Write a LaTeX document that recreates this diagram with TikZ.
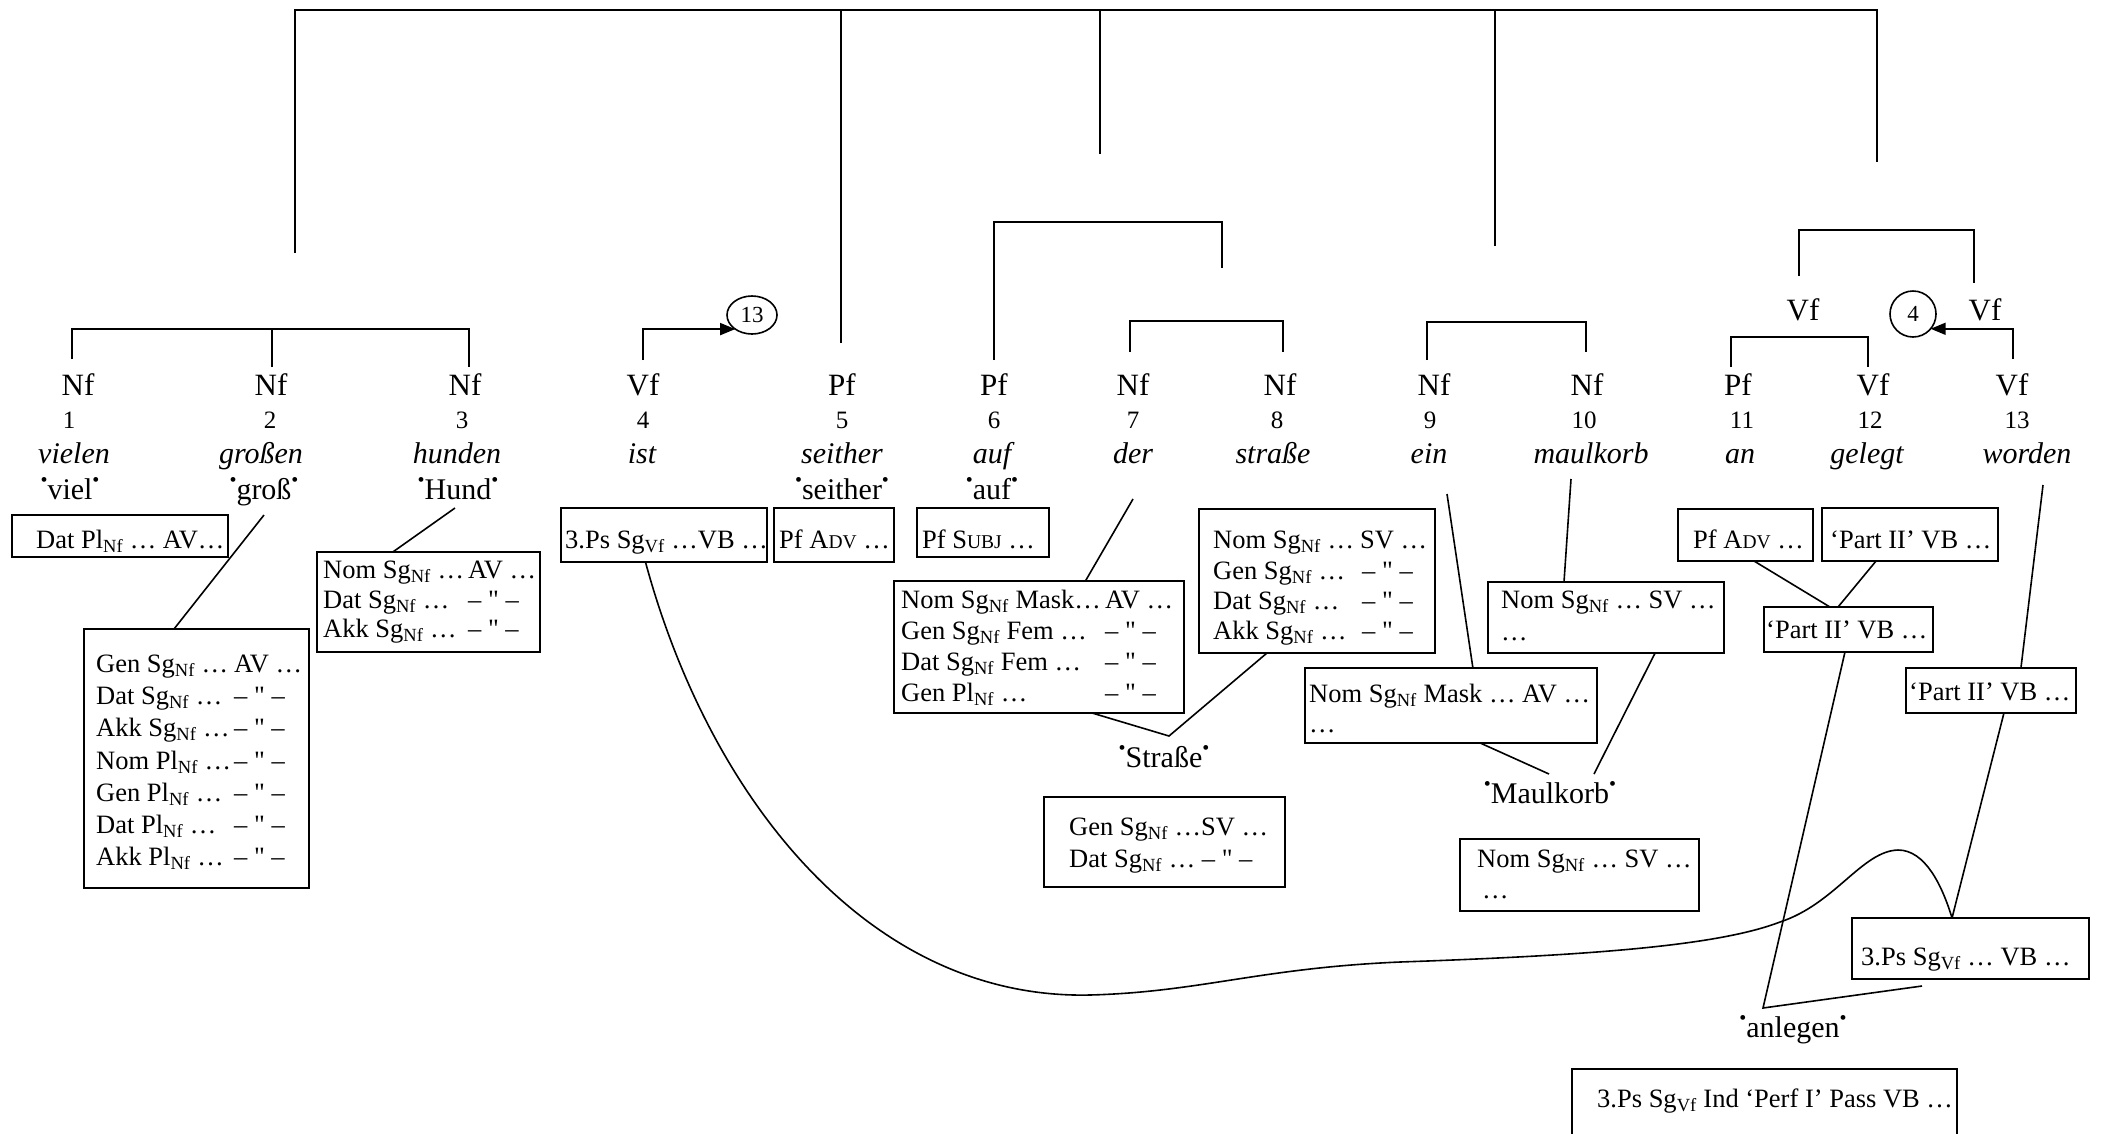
\documentclass[tikz,border=0pt]{standalone}
\usepackage{fontspec}
\setmainfont{Liberation Serif}
\usetikzlibrary{calc,arrows.meta,shapes.geometric}
\newcommand\gd{\raisebox{13pt}{\fontsize{20}{20}\selectfont •}}
\newcommand\fsc[1]{{\fontsize{19.5}{20}\selectfont #1}}
\newcommand\sbt[1]{\textsubscript{#1}}
\newcommand\qd{\XeTeXglyph\XeTeXglyphindex "quotedbl"\relax}
\newcommand\dit{– \qd{} –}
\begin{document}
\begin{tikzpicture}[x=1pt,y=-1pt,
  lab/.style={font=\fontsize{31}{31}\selectfont, inner sep=0, anchor=base},
  num/.style={font=\fontsize{25}{25}\selectfont, inner sep=0, anchor=base},
  wrd/.style={font=\fontsize{30}{30}\selectfont\itshape, inner sep=0, anchor=base},
  gls/.style={font=\fontsize{30}{30}\selectfont, inner sep=0, anchor=base},
  bx/.style={draw, line width=2pt, inner sep=0, outer sep=0, anchor=north west},
  bt/.style={font=\fontsize{26.5}{30}\selectfont, inner sep=0, anchor=base west},
  ln/.style={line width=1.6pt},
  br/.style={line width=1.8pt},
  arr/.style={ln, -{Triangle[length=15pt,width=12pt]}},
  circ/.style={draw, ellipse, line width=1.6pt, inner sep=0, outer sep=0, font=\fontsize{23}{23}\selectfont}]
\useasboundingbox (0,0) rectangle (2103,1133);

% ---------- top structure ----------
\coordinate (t1) at (295,253);
\coordinate (t2) at (841,343);
\coordinate (t3) at (1100,154);
\coordinate (t4) at (1495,246);
\coordinate (t5) at (1877,162);
\draw[br] (t1) -- ++(0,-243) -| (t5);
\draw[br] (t2) -- ++(0,-333);
\draw[br] (t3) -- ++(0,-144);
\draw[br] (t4) -- ++(0,-236);

% ---------- brackets ----------
\coordinate (k1) at (72,359);
\coordinate (k2) at (272,367);
\coordinate (k3) at (469,367);
\draw[br] (k1) -- ++(0,-30) -| (k3);
\draw[br] (k2) -- ++(0,-38);
\coordinate (k6) at (994,360);
\coordinate (k78) at (1222,268);
\draw[br] (k6) -- ++(0,-138) -| (k78);
\coordinate (k7) at (1130,352);
\coordinate (k8) at (1283,352);
\draw[br] (k7) -- ++(0,-31) -| (k8);
\coordinate (k9) at (1427,360);
\coordinate (k10) at (1586,352);
\draw[br] (k9) -- ++(0,-38) -| (k10);
\coordinate (k11) at (1731,367);
\coordinate (k12) at (1868,367);
\draw[br] (k11) -- ++(0,-30) -| (k12);
\coordinate (kva) at (1799,276);
\coordinate (kvb) at (1974,283);
\draw[br] (kva) -- ++(0,-46) -| (kvb);

% ---------- category labels ----------
\node[lab] (l1) at (78,395) {Nf};
\node[lab] (l2) at (271,395) {Nf};
\node[lab] (l3) at (465,395) {Nf};
\node[lab] (l4) at (643,395) {Vf};
\node[lab] (l5) at (842,395) {Pf};
\node[lab] (l6) at (994,395) {Pf};
\node[lab] (l7) at (1133,395) {Nf};
\node[lab] (l8) at (1280,395) {Nf};
\node[lab] (l9) at (1434,395) {Nf};
\node[lab] (l10) at (1587,395) {Nf};
\node[lab] (l11) at (1738,395) {Pf};
\node[lab] (l12) at (1873,395) {Vf};
\node[lab] (l13) at (2012,395) {Vf};
\node[lab] (lva) at (1803,320) {Vf};
\node[lab] (lvb) at (1985,320) {Vf};

% ---------- numbers ----------
\node[num] (n1) at (69,428) {1};
\node[num] (n2) at (270,428) {2};
\node[num] (n3) at (462,428) {3};
\node[num] (n4) at (643,428) {4};
\node[num] (n5) at (842,428) {5};
\node[num] (n6) at (994,428) {6};
\node[num] (n7) at (1133,428) {7};
\node[num] (n8) at (1277,428) {8};
\node[num] (n9) at (1430,428) {9};
\node[num] (n10) at (1584,428) {10};
\node[num] (n11) at (1742,428) {11};
\node[num] (n12) at (1870,428) {12};
\node[num] (n13) at (2017,428) {13};

% ---------- word forms ----------
\node[wrd] (w1) at (74,463) {vielen};
\node[wrd] (w2) at (261,463) {großen};
\node[wrd] (w3) at (457,463) {hunden};
\node[wrd] (w4) at (642,463) {ist};
\node[wrd] (w5) at (842,463) {seither};
\node[wrd] (w6) at (992,463) {auf};
\node[wrd] (w7) at (1133,463) {der};
\node[wrd] (w8) at (1273,463) {straße};
\node[wrd] (w9) at (1429,463) {ein};
\node[wrd] (w10) at (1591,463) {maulkorb};
\node[wrd] (w11) at (1740,463) {an};
\node[wrd] (w12) at (1867,463) {gelegt};
\node[wrd] (w13) at (2027,463) {worden};

% ---------- glosses ----------
\node[gls] (g1) at (70,499) {\gd viel\gd};
\node[gls] (g2) at (264,499) {\gd groß\gd};
\node[gls] (g3) at (458,499) {\gd Hund\gd};
\node[gls] (g5) at (842,499) {\gd seither\gd};
\node[gls] (g6) at (992,499) {\gd auf\gd};
\node[gls] (gS) at (1164,767) {\gd Straße\gd};
\node[gls] (gM) at (1550,803) {\gd Maulkorb\gd};
\node[gls] (gA) at (1793,1037) {\gd anlegen\gd};

% ---------- circles and arrows ----------
\node[circ, minimum width=50pt, minimum height=38pt] (c13) at (752,315) {13};
\node[circ, minimum width=46pt, minimum height=46pt] (c4) at (1913,314) {4};
\coordinate (a4) at (643,360);
\coordinate (a13) at (2013,359);
\draw[arr] (a4) |- (c13.220);
\draw[arr] (a13) |- (c4.-40);

% ---------- boxes ----------
\node[bx, minimum width=216pt, minimum height=42pt] (bviel) at (12,515) {};
\node[bt] (bvielt) at (36,548) {Dat Pl\sbt{Nf} … AV…};

\node[bx, minimum width=225pt, minimum height=259pt] (bgross) at (84,629) {};
\node[bt] (bg1) at (96,672) {\makebox[138pt][l]{Gen Sg\sbt{Nf} …}AV …};
\node[bt] (bg2) at (96,704) {\makebox[138pt][l]{Dat Sg\sbt{Nf} …}\dit};
\node[bt] (bg3) at (96,736) {\makebox[138pt][l]{Akk Sg\sbt{Nf} …}\dit};
\node[bt] (bg4) at (96,769) {\makebox[138pt][l]{Nom Pl\sbt{Nf} …}\dit};
\node[bt] (bg5) at (96,801) {\makebox[138pt][l]{Gen Pl\sbt{Nf} …}\dit};
\node[bt] (bg6) at (96,833) {\makebox[138pt][l]{Dat Pl\sbt{Nf} …}\dit};
\node[bt] (bg7) at (96,865) {\makebox[138pt][l]{Akk Pl\sbt{Nf} …}\dit};

\node[bx, minimum width=223pt, minimum height=100pt] (bhund) at (317,552) {};
\node[bt] (bh1) at (323,578) {\makebox[145pt][l]{Nom Sg\sbt{Nf} …}AV …};
\node[bt] (bh2) at (323,608) {\makebox[145pt][l]{Dat Sg\sbt{Nf} …}\dit};
\node[bt] (bh3) at (323,637) {\makebox[145pt][l]{Akk Sg\sbt{Nf} …}\dit};

\node[bx, minimum width=206pt, minimum height=54pt] (bist) at (561,508) {};
\node[bt] (bistt) at (565,548) {3.Ps Sg\sbt{Vf} …VB …};

\node[bx, minimum width=120pt, minimum height=54pt] (bseit) at (774,508) {};
\node[bt] (bseitt) at (779,548) {Pf A\fsc{DV} …};

\node[bx, minimum width=132pt, minimum height=49pt] (bauf) at (917,508) {};
\node[bt] (bauft) at (922,548) {Pf S\fsc{UBJ} …};

\node[bx, minimum width=290pt, minimum height=132pt] (bder) at (894,581) {};
\node[bt] (bd1) at (901,608) {\makebox[204pt][l]{Nom Sg\sbt{Nf} Mask…}AV …};
\node[bt] (bd2) at (901,639) {\makebox[204pt][l]{Gen Sg\sbt{Nf} Fem …}\dit};
\node[bt] (bd3) at (901,670) {\makebox[204pt][l]{Dat Sg\sbt{Nf} Fem …}\dit};
\node[bt] (bd4) at (901,701) {\makebox[204pt][l]{Gen Pl\sbt{Nf} …}\dit};

\node[bx, minimum width=236pt, minimum height=144pt] (bstr) at (1199,509) {};
\node[bt] (bs1) at (1213,548) {\makebox[147pt][l]{Nom Sg\sbt{Nf} …}SV …};
\node[bt] (bs2) at (1213,579) {\makebox[149pt][l]{Gen Sg\sbt{Nf} …}\dit};
\node[bt] (bs3) at (1213,609) {\makebox[149pt][l]{Dat Sg\sbt{Nf} …}\dit};
\node[bt] (bs4) at (1213,639) {\makebox[149pt][l]{Akk Sg\sbt{Nf} …}\dit};

\node[bx, minimum width=241pt, minimum height=90pt] (bstr2) at (1044,797) {};
\node[bt] (bs21) at (1069,835) {Gen Sg\sbt{Nf} …SV …};
\node[bt] (bs22) at (1069,867) {Dat Sg\sbt{Nf} … \dit};

\node[bx, minimum width=292pt, minimum height=75pt] (bein) at (1305,668) {};
\node[bt] (be1) at (1309,702) {Nom Sg\sbt{Nf} Mask … AV …};
\node[bt] (be2) at (1309,732) {…};

\node[bx, minimum width=236pt, minimum height=71pt] (bmaul) at (1488,582) {};
\node[bt] (bm1) at (1501,608) {Nom Sg\sbt{Nf} … SV …};
\node[bt] (bm2) at (1501,640) {…};

\node[bx, minimum width=239pt, minimum height=72pt] (bmaul2) at (1460,839) {};
\node[bt] (bm21) at (1477,867) {Nom Sg\sbt{Nf} … SV …};
\node[bt] (bm22) at (1482,898) {…};

\node[bx, minimum width=135pt, minimum height=52pt] (ban) at (1678,509) {};
\node[bt] (bant) at (1693,548) {Pf A\fsc{DV} …};

\node[bx, minimum width=176pt, minimum height=53pt] (bgel) at (1822,508) {};
\node[bt] (bgelt) at (1830,548) {‘Part II’ VB …};

\node[bx, minimum width=169pt, minimum height=45pt] (bmid) at (1764,607) {};
\node[bt] (bmidt) at (1766,638) {‘Part II’ VB …};

\node[bx, minimum width=170pt, minimum height=45pt] (bwor) at (1906,668) {};
\node[bt] (bwort) at (1909,700) {‘Part II’ VB …};

\node[bx, minimum width=237pt, minimum height=61pt] (b3ps) at (1852,918) {};
\node[bt] (b3pst) at (1861,965) {3.Ps Sg\sbt{Vf} … VB …};

\node[bx, minimum width=385pt, minimum height=100pt] (bbot) at (1572,1069) {};
\node[bt] (bbott) at (1597,1107) {3.Ps Sg\sbt{Vf} Ind ‘Perf I’ Pass VB …};

% ---------- connectors ----------
\coordinate (s2) at (264,515);
\coordinate (s3) at (455,508);
\coordinate (s7) at (1133,499);
\coordinate (s9) at (1447,494);
\coordinate (s10) at (1571,479);
\coordinate (s13) at (2043,485);
\coordinate (pS) at (1169,736);
\coordinate (pM1) at (1549,774);
\coordinate (pM2) at (1594,774);
\coordinate (pA) at (1763,1008);
\coordinate (q3) at (1922,986);

\draw[ln] (s2) -- ($(bgross.north west)!.4!(bgross.north east)$);
\draw[ln] (s3) -- ($(bhund.north west)!.34!(bhund.north east)$);
\draw[ln] (s7) -- ($(bder.north west)!.66!(bder.north east)$);
\draw[ln] ($(bder.south west)!.683!(bder.south east)$) -- (pS) -- ($(bstr.south west)!.288!(bstr.south east)$);
\draw[ln] (s9) -- ($(bein.north west)!.575!(bein.north east)$);
\draw[ln] (s10) -- ($(bmaul.north west)!.322!(bmaul.north east)$);
\draw[ln] ($(bein.south west)!.6!(bein.south east)$) -- (pM1);
\draw[ln] ($(bmaul.south west)!.708!(bmaul.south east)$) -- (pM2);
\draw[ln] ($(ban.south west)!.563!(ban.south east)$) -- ($(bmid.north west)!.39!(bmid.north east)$);
\draw[ln] ($(bgel.south west)!.307!(bgel.south east)$) -- ($(bmid.north west)!.438!(bmid.north east)$);
\draw[ln] (s13) -- ($(bwor.north west)!.676!(bwor.north east)$);
\draw[ln] ($(bmid.south west)!.479!(bmid.south east)$) -- (pA) -- (q3);
\draw[ln] ($(bwor.south west)!.576!(bwor.south east)$) -- ($(b3ps.north west)!.422!(b3ps.north east)$);
\draw[ln] ($(bist.south west)!.41!(bist.south east)$)
  .. controls (710,800) and (870,1000) .. (1090,995)
  .. controls (1200,992) and (1260,968) .. (1400,962)
  .. controls (1600,955) and (1720,945) .. (1780,922)
  .. controls (1835,904) and (1862,851) .. (1898,850)
  .. controls (1925,850) and (1942,885) .. ($(b3ps.north west)!.422!(b3ps.north east)$);
\end{tikzpicture}
\end{document}
